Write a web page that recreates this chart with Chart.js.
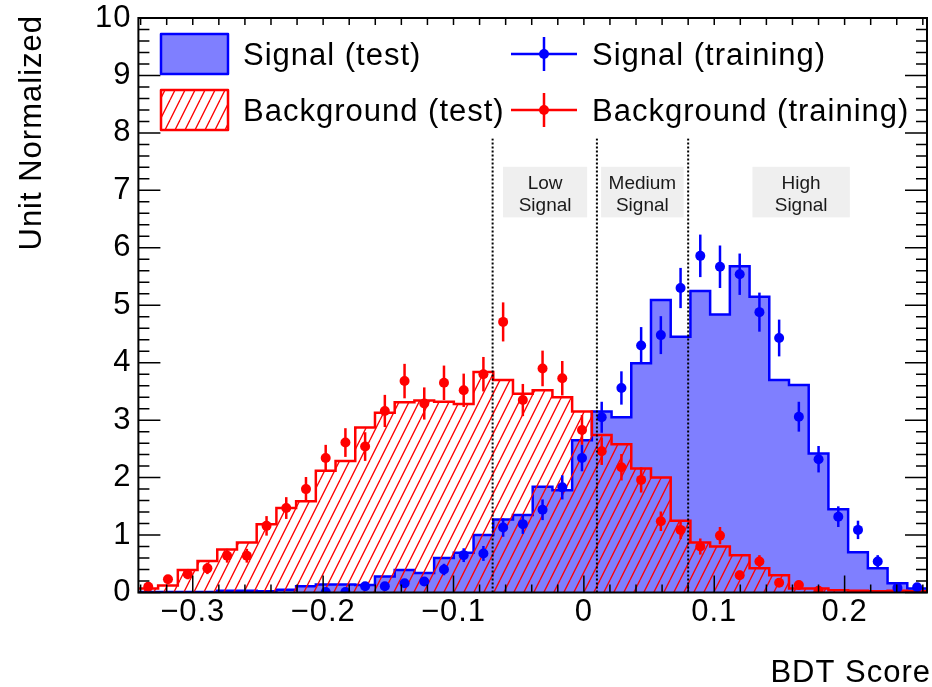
<!DOCTYPE html>
<html lang="en">
<head>
<meta charset="UTF-8">
<title>BDT Score</title>
<style>
  body { margin: 0; background: #fff; }
  #chartBox { width: 932px; height: 687px; }
</style>
<script src="https://cdn.jsdelivr.net/npm/chart.js"></script>
</head>
<body>
<div id="chartBox"><canvas id="bdtChart" width="932" height="687"></canvas></div>
<script>
// histogram binning of the BDT output
const nBins = 40;
const xLo = -0.3417;
const xHi = 0.2632;

// unit-normalized test samples, one value per bin
const signalTest = [0.01, 0.01, 0.01, 0.01, 0.03, 0.03, 0.02, 0.05, 0.11, 0.14,
                    0.14, 0.13, 0.28, 0.39, 0.34, 0.60, 0.69, 1.00, 1.27, 1.35,
                    1.84, 1.78, 2.65, 3.15, 3.05, 3.99, 5.09, 4.45, 5.25, 4.84,
                    5.68, 5.15, 3.70, 3.61, 2.42, 1.45, 0.70, 0.42, 0.16, 0.07];
const backgroundTest = [0.07, 0.12, 0.39, 0.55, 0.75, 0.87, 1.19, 1.47, 1.59, 2.12,
                        2.29, 2.87, 3.13, 3.31, 3.34, 3.32, 3.28, 3.84, 3.70, 3.46,
                        3.52, 3.40, 3.15, 2.74, 2.58, 2.16, 2.00, 1.25, 0.87, 0.80,
                        0.65, 0.42, 0.30, 0.07, 0.07, 0.04, 0.03, 0.02, 0.03, 0.02];

// training samples, drawn as points with errors (null = empty bin)
const signalTrain = [null, null, null, null, null, null, null, null, null, 0.01,
                     0.01, 0.11, 0.11, 0.16, 0.19, 0.40, 0.65, 0.68, 1.13, 1.19,
                     1.44, 1.83, 2.34, 3.05, 3.56, 4.30, 4.48, 5.30, 5.86, 5.67,
                     5.54, 4.88, 4.43, 3.06, 2.32, 1.32, 1.09, 0.54, 0.08, 0.09];
const signalTrainErr = [null, null, null, null, null, null, null, null, null, 0.02,
                        0.02, 0.05, 0.05, 0.06, 0.07, 0.10, 0.12, 0.13, 0.16, 0.17,
                        0.18, 0.21, 0.23, 0.27, 0.29, 0.32, 0.33, 0.35, 0.37, 0.37,
                        0.36, 0.34, 0.32, 0.26, 0.23, 0.18, 0.16, 0.11, 0.04, 0.04];
const backgroundTrain = [0.10, 0.23, 0.32, 0.42, 0.64, 0.64, 1.16, 1.47, 1.80, 2.34,
                         2.61, 2.54, 3.16, 3.68, 3.29, 3.65, 3.52, 3.80, 4.71, 3.35,
                         3.90, 3.73, 2.83, 2.46, 2.18, 1.96, 1.24, 1.09, 0.80, 0.99,
                         0.30, 0.54, 0.17, 0.13, 0.03, null, null, null, null, null];
const backgroundTrainErr = [0.05, 0.07, 0.09, 0.10, 0.12, 0.12, 0.17, 0.19, 0.21, 0.23,
                            0.25, 0.25, 0.28, 0.30, 0.28, 0.30, 0.29, 0.30, 0.34, 0.28,
                            0.31, 0.30, 0.26, 0.24, 0.23, 0.22, 0.17, 0.16, 0.14, 0.15,
                            0.08, 0.11, 0.06, 0.06, 0.03, null, null, null, null, null];

// axis ticks
const xTicks = [-0.3, -0.2, -0.1, 0, 0.1, 0.2];
const xTickLabels = ['\u22120.3', '\u22120.2', '\u22120.1', '0', '0.1', '0.2'];
const yTicks = [0, 1, 2, 3, 4, 5, 6, 7, 8, 9, 10];
const yTickLabels = ['0', '1', '2', '3', '4', '5', '6', '7', '8', '9', '10'];

// category cuts on the BDT score
const cutValues = [-0.07, 0.01, 0.08];
const regionNames = [['Low', 'Signal'], ['Medium', 'Signal'], ['High', 'Signal']];

// where the category tags sit (data coordinates)
const regionBoxes = [
  { x0: -0.062, x1: 0.0025 },
  { x0: 0.0132, x1: 0.0765 },
  { x0: 0.1293, x1: 0.2040 }
];
const regionBoxTop = 7.41, regionBoxBottom = 6.53;
const cutTop = 7.9;

const FONT = '"Liberation Sans", Arial, Helvetica, sans-serif';
const BLUE = '#0000ff', RED = '#ff0000', BLUE_FILL = '#7f7fff';
const binWidth = (xHi - xLo) / nBins;

// step outline: one point on each left edge, plus the last right edge
function stepPoints(vals) {
  const pts = vals.map((v, i) => ({ x: xLo + i * binWidth, y: v }));
  pts.push({ x: xHi, y: vals[vals.length - 1] });
  return pts;
}
function centerPoints(vals) {
  return vals.map((v, i) => ({ x: xLo + (i + 0.5) * binWidth, y: v }));
}

// red 3004-like hatching
function hatchPattern() {
  const c = document.createElement('canvas');
  c.width = 10; c.height = 20;
  const g = c.getContext('2d');
  g.strokeStyle = RED;
  g.lineWidth = 1.3;
  for (const dx of [-10, 0, 10]) {
    g.beginPath();
    g.moveTo(dx, 20);
    g.lineTo(dx + 10, 0);
    g.stroke();
  }
  return g.createPattern(c, 'repeat');
}
const hatch = hatchPattern();

// vertical error bars under the training points
const errorBars = {
  id: 'errorBars',
  beforeDatasetDraw(chart, args) {
    const ds = chart.data.datasets[args.index];
    if (!ds.errors) return;
    const { ctx, scales: { x, y } } = chart;
    ctx.save();
    ctx.strokeStyle = ds.borderColor;
    ctx.lineWidth = 2.5;
    ds.data.forEach((p, i) => {
      if (p.y === null || ds.errors[i] === null) return;
      const px = x.getPixelForValue(p.x);
      ctx.beginPath();
      ctx.moveTo(px, y.getPixelForValue(p.y - ds.errors[i]));
      ctx.lineTo(px, y.getPixelForValue(p.y + ds.errors[i]));
      ctx.stroke();
    });
    ctx.restore();
  }
};

// spacing a bit wider, like the Helvetica output of ROOT
const spacing = {
  id: 'spacing',
  beforeDraw(chart) { chart.ctx.letterSpacing = '1px'; }
};

// cuts, category tags, frame and inner ticks
const decorations = {
  id: 'decorations',
  afterDatasetsDraw(chart) {
    const { ctx, chartArea: a, scales: { x, y } } = chart;
    ctx.save();

    ctx.strokeStyle = '#000';
    ctx.lineWidth = 2;
    ctx.setLineDash([2, 2]);
    cutValues.forEach(c => {
      const px = x.getPixelForValue(c);
      ctx.beginPath();
      ctx.moveTo(px, y.getPixelForValue(0));
      ctx.lineTo(px, y.getPixelForValue(cutTop));
      ctx.stroke();
    });
    ctx.setLineDash([]);

    regionBoxes.forEach((b, i) => {
      const left = x.getPixelForValue(b.x0), right = x.getPixelForValue(b.x1);
      const top = y.getPixelForValue(regionBoxTop), bottom = y.getPixelForValue(regionBoxBottom);
      ctx.fillStyle = '#efefef';
      ctx.fillRect(left, top, right - left, bottom - top);
      ctx.fillStyle = '#1a1a1a';
      ctx.font = '19px ' + FONT;
      ctx.textAlign = 'center';
      ctx.textBaseline = 'alphabetic';
      ctx.letterSpacing = '0px';
      const cx = (left + right) / 2;
      ctx.fillText(regionNames[i][0], cx, top + 22);
      ctx.fillText(regionNames[i][1], cx, top + 44.3);
    });

    ctx.lineWidth = 1.5;
    ctx.beginPath();
    for (let k = -17; k <= 13; k++) {
      const px = x.getPixelForValue(k * 0.02);
      if (px < a.left + 1 || px > a.right - 1) continue;
      const len = k % 5 === 0 ? 17 : 8;
      ctx.moveTo(px, a.bottom); ctx.lineTo(px, a.bottom - len);
      ctx.moveTo(px, a.top); ctx.lineTo(px, a.top + 7);
    }
    for (let k = 0; k <= 50; k++) {
      const py = y.getPixelForValue(k * 0.2);
      const len = k % 5 === 0 ? 22 : 11;
      ctx.moveTo(a.left, py); ctx.lineTo(a.left + len, py);
      ctx.moveTo(a.right, py); ctx.lineTo(a.right - len, py);
    }
    ctx.stroke();

    ctx.lineWidth = 2;
    ctx.strokeRect(a.left, a.top, a.right - a.left, a.bottom - a.top);
    ctx.restore();
  },
  afterDraw(chart) {
    const { ctx } = chart;
    const ds = chart.data.datasets;
    ctx.save();
    ctx.font = '31px ' + FONT;
    ctx.fillStyle = '#000';
    ctx.letterSpacing = '1px';
    ctx.textBaseline = 'alphabetic';

    // axis titles
    ctx.textAlign = 'right';
    ctx.fillText('BDT Score', 931, 682);
    ctx.save();
    ctx.translate(41, 15);
    ctx.rotate(-Math.PI / 2);
    ctx.fillText('Unit Normalized', 0, 0);
    ctx.restore();

    // legend: filled boxes on the left, points on the right
    ctx.textAlign = 'left';
    const rows = [54, 110];
    [ds[3], ds[2]].forEach((d, r) => {
      const cy = rows[r];
      ctx.fillStyle = d.backgroundColor;
      ctx.fillRect(161, cy - 20, 67, 40);
      ctx.strokeStyle = d.borderColor;
      ctx.lineWidth = 2.5;
      ctx.lineJoin = 'round';
      ctx.strokeRect(161, cy - 20, 67, 40);
      ctx.fillStyle = '#000';
      ctx.fillText(d.label, 243, cy + 11);
    });
    [ds[0], ds[1]].forEach((d, r) => {
      const cy = rows[r];
      ctx.strokeStyle = d.borderColor;
      ctx.lineWidth = 2.5;
      ctx.beginPath();
      ctx.moveTo(511, cy); ctx.lineTo(577, cy);
      ctx.moveTo(544, cy - 17); ctx.lineTo(544, cy + 17);
      ctx.stroke();
      ctx.fillStyle = d.borderColor;
      ctx.beginPath();
      ctx.arc(544, cy, 5, 0, Math.PI * 2);
      ctx.fill();
      ctx.fillStyle = '#000';
      ctx.fillText(d.label, 592, cy + 11);
    });
    ctx.restore();
  }
};

const tickFont = { family: FONT, size: 31 };

new Chart(document.getElementById('bdtChart'), {
  type: 'scatter',
  data: {
    datasets: [
      {
        label: 'Signal (training)',
        data: centerPoints(signalTrain),
        errors: signalTrainErr,
        borderColor: BLUE,
        backgroundColor: BLUE,
        pointRadius: 5,
        pointBorderWidth: 0,
        order: 0
      },
      {
        label: 'Background (training)',
        data: centerPoints(backgroundTrain),
        errors: backgroundTrainErr,
        borderColor: RED,
        backgroundColor: RED,
        pointRadius: 5,
        pointBorderWidth: 0,
        order: 1
      },
      {
        label: 'Background (test)',
        data: stepPoints(backgroundTest),
        showLine: true,
        stepped: 'before',
        fill: 'origin',
        borderColor: RED,
        backgroundColor: hatch,
        borderWidth: 2.5,
        pointRadius: 0,
        order: 2
      },
      {
        label: 'Signal (test)',
        data: stepPoints(signalTest),
        showLine: true,
        stepped: 'before',
        fill: 'origin',
        borderColor: BLUE,
        backgroundColor: BLUE_FILL,
        borderWidth: 2.5,
        pointRadius: 0,
        order: 3
      }
    ]
  },
  options: {
    responsive: false,
    animation: false,
    events: [],
    devicePixelRatio: 1,
    layout: { padding: { left: 0, right: 3, top: 18, bottom: 0 } },
    plugins: { legend: { display: false }, tooltip: { enabled: false } },
    scales: {
      x: {
        type: 'linear',
        min: xLo,
        max: xHi,
        grid: { display: false },
        border: { display: false },
        afterBuildTicks: s => { s.ticks = xTicks.map(v => ({ value: v })); },
        afterFit: s => { s.height = 94.5; s.paddingLeft = 0; s.paddingRight = 0; },
        ticks: {
          callback: (v, i) => xTickLabels[i],
          font: tickFont,
          color: '#000',
          padding: -7,
          maxRotation: 0,
          autoSkip: false
        }
      },
      y: {
        type: 'linear',
        min: 0,
        max: 10,
        grid: { display: false },
        border: { display: false },
        afterBuildTicks: s => { s.ticks = yTicks.map(v => ({ value: v })); },
        afterFit: s => { s.width = 138.4; s.paddingTop = 0; s.paddingBottom = 0; },
        ticks: {
          callback: (v, i) => yTickLabels[i],
          font: tickFont,
          color: '#000',
          padding: -1,
          autoSkip: false
        }
      }
    }
  },
  plugins: [spacing, errorBars, decorations]
});
</script>
</body>
</html>
